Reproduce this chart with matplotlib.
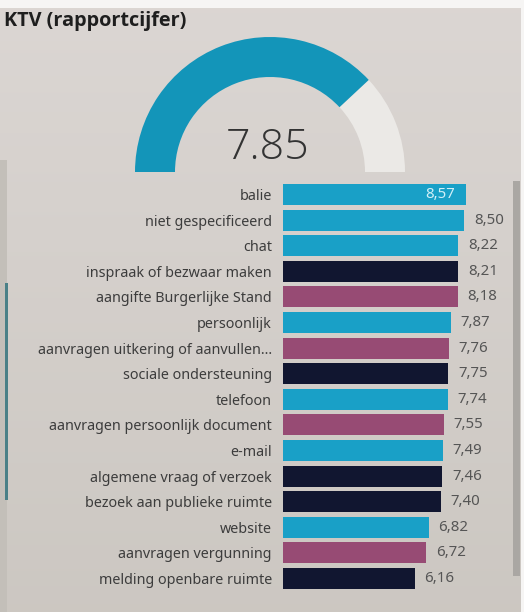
import numpy as np
import matplotlib.pyplot as plt
from matplotlib.patches import Wedge, Rectangle

# data
categories = ["balie", "niet gespecificeerd", "chat", "inspraak of bezwaar maken",
              "aangifte Burgerlijke Stand", "persoonlijk", "aanvragen uitkering of aanvullen...",
              "sociale ondersteuning", "telefoon", "aanvragen persoonlijk document", "e-mail",
              "algemene vraag of verzoek", "bezoek aan publieke ruimte", "website",
              "aanvragen vergunning", "melding openbare ruimte"]
scores = [8.57, 8.50, 8.22, 8.21, 8.18, 7.87, 7.76, 7.75, 7.74, 7.55, 7.49, 7.46, 7.40, 6.82, 6.72, 6.16]
groups = ["kanaal", "kanaal", "kanaal", "overig", "aanvraag", "kanaal", "aanvraag", "overig",
          "kanaal", "aanvraag", "kanaal", "overig", "overig", "kanaal", "aanvraag", "overig"]
gauge_value = 7.85
gauge_min, gauge_max = 1, 10
title = "KTV (rapportcijfer)"

group_colors = {"kanaal": "#19a0c7", "overig": "#111630", "aanvraag": "#974b74"}
bg = "#d9d6d2"
W, H = 524, 612

fig = plt.figure(figsize=(W / 100, H / 100), dpi=100, facecolor=bg)

# achtergrond-laag in pixelcoordinaten (y omhoog)
base = fig.add_axes([0, 0, 1, 1])
base.axis("off")

# foto-achtige verloop van licht (boven) naar iets donkerder (onder)
verloop = np.linspace(0, 1, 256).reshape(-1, 1)
boven = np.array([0.860, 0.840, 0.828])
onder = np.array([0.800, 0.782, 0.760])
kleurvlak = boven + (onder - boven) * verloop[..., None]
base.imshow(kleurvlak, extent=(0, W, 0, H), origin="upper", aspect="auto", zorder=0)
base.set_xlim(0, W)
base.set_ylim(0, H)

# witte rand boven/rechts, donkere rand links, scrollbalk
base.add_patch(Rectangle((0, H - 8), W, 8, color="#f6f5f4", lw=0, zorder=1))
base.add_patch(Rectangle((W - 3, 0), 3, H, color="#f6f5f4", lw=0, zorder=1))
base.add_patch(Rectangle((0, 0), 7, H - 160, color="#c3bfb9", lw=0, zorder=1))
base.add_patch(Rectangle((5, H - 500), 3, 217, color="#4a8087", lw=0, zorder=1))
base.add_patch(Rectangle((513, 36), 7, 395, color="#aaa7a3", lw=0, zorder=1))

base.text(4, H - 21, title, fontsize=14.3, fontweight="bold", family="Open Sans",
          color="#1e1e1e", va="center", ha="left", zorder=2)

# meter
cx, cy, r, dikte = 270, H - 172, 135, 40
frac = (gauge_value - gauge_min) / (gauge_max - gauge_min)
hoek = 180 * (1 - frac)
base.add_patch(Wedge((cx, cy), r, 0, hoek, width=dikte, color="#ebe9e6", lw=0, zorder=1))
base.add_patch(Wedge((cx, cy), r, hoek, 180, width=dikte, color="#1395b9", lw=0, zorder=1))
base.text(cx - 2, H - 148, f"{gauge_value:.2f}", fontsize=31, family="Open Sans",
          fontweight="light", color="#333333", ha="center", va="center", zorder=2)

# staafdiagram
px_per_unit = 21.35
ax_left, ax_right = 283, 513
rij = 25.6
top = 194.5 - rij / 2
n = len(categories)
ax = fig.add_axes([ax_left / W, (H - top - n * rij) / H, (ax_right - ax_left) / W, n * rij / H])
ax.set_facecolor("none")
ax.set_xlim(0, (ax_right - ax_left) / px_per_unit)
ax.set_ylim(n - 0.5, -0.5)
kleuren = [group_colors[g] for g in groups]
ax.barh(range(n), scores, height=0.82, color=kleuren)
ax.set_yticks(range(n))
ax.set_yticklabels(categories, fontsize=10.3, family="Noto Sans", color="#3c3c3c")
ax.tick_params(axis="y", length=0, pad=8)
ax.set_xticks([])
for s in ax.spines.values():
    s.set_visible(False)

for i, v in enumerate(scores):
    tekst = f"{v:.2f}".replace(".", ",")
    if i == 0:
        ax.text(v - 0.5, i, tekst, color="#d2f0f8", fontsize=10.8, family="Noto Sans",
                ha="right", va="center")
    else:
        ax.text(v + 0.45, i, tekst, color="#555555", fontsize=10.8, family="Noto Sans",
                ha="left", va="center")

fig.savefig("out.png", dpi=100, facecolor=bg)
